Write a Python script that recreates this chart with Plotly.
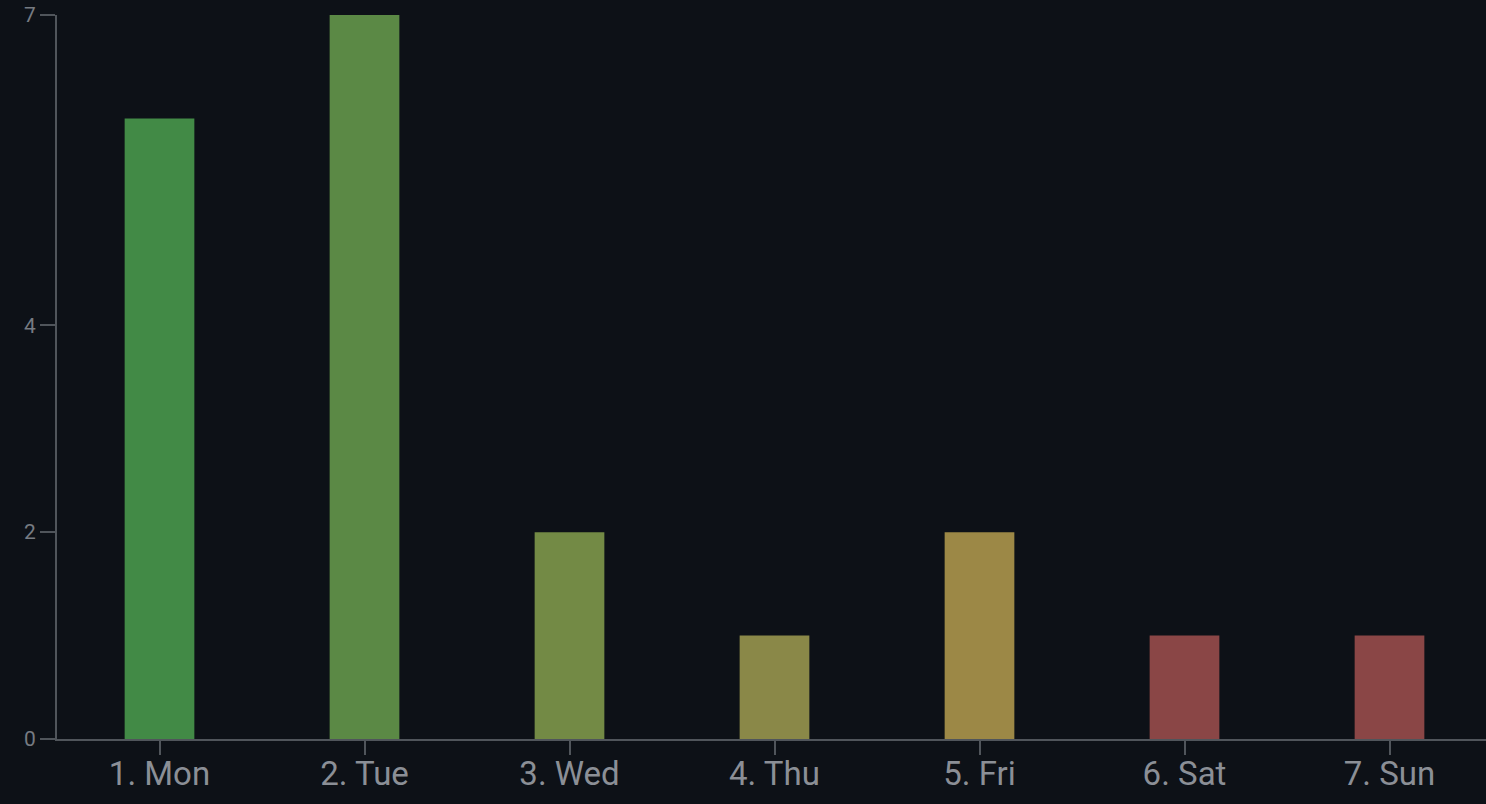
import plotly.graph_objects as go

days = ["1. Mon", "2. Tue", "3. Wed", "4. Thu", "5. Fri", "6. Sat", "7. Sun"]
counts = [6, 7, 2, 1, 2, 1, 1]
bar_colors = ["#428a46", "#5b8945", "#738a45", "#8a8848", "#9c8846", "#8a4646", "#8a4646"]
y_ticks = [0, 2, 4, 7]

fig = go.Figure()
fig.add_trace(go.Bar(
    x=days, y=counts,
    marker=dict(color=bar_colors, line=dict(width=0)),
    hoverinfo="x+y",
))

fig.update_layout(
    width=1492,
    height=804,
    paper_bgcolor="#0d1117",
    plot_bgcolor="#0d1117",
    bargap=0.66,
    showlegend=False,
    margin=dict(l=57, r=0, t=15, b=65),
    font=dict(family="Roboto", color="#8b8f96"),
    xaxis=dict(
        showgrid=False,
        showline=True, linecolor="#50555b", linewidth=2,
        ticks="outside", ticklen=14, tickcolor="#50555b", tickwidth=2,
        tickfont=dict(size=33, color="#8b8f96"),
        ticklabelstandoff=-10,
        zeroline=False,
    ),
    yaxis=dict(
        range=[0, 7],
        tickvals=y_ticks,
        showgrid=False,
        showline=True, linecolor="#50555b", linewidth=2,
        ticks="outside", ticklen=15, tickcolor="#50555b", tickwidth=2,
        tickfont=dict(size=21, color="#767b82"),
        zeroline=False,
    ),
)

# drop the page's default body margin so the chart fills the window
fig.write_html(
    "out.html",
    config={"displayModeBar": False},
    post_script="document.body.style.margin='0';document.body.style.background='#0d1117';document.body.style.overflow='hidden';",
)
